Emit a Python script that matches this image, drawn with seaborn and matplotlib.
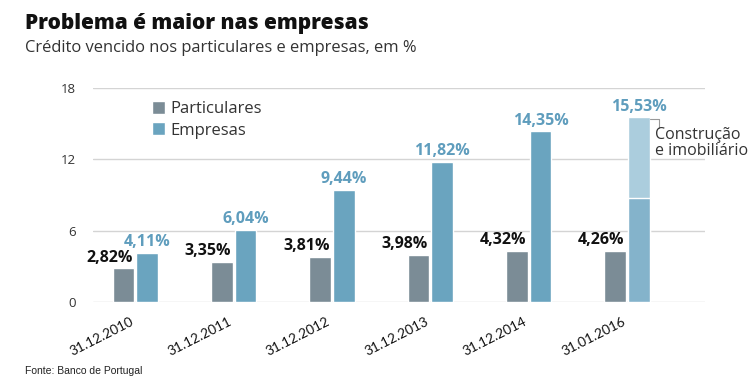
import matplotlib
matplotlib.use("Agg")
import matplotlib.pyplot as plt
import seaborn as sns
import pandas as pd

dates = ["31.12.2010", "31.12.2011", "31.12.2012", "31.12.2013", "31.12.2014", "31.01.2016"]
particulares = [2.82, 3.35, 3.81, 3.98, 4.32, 4.26]
empresas = [4.11, 6.04, 9.44, 11.82, 14.35, 15.53]
empresas_sem_construcao_2016 = 8.75
series_names = ["Particulares", "Empresas"]
yticks = [0, 6, 12, 18]

c_part = "#7b8c96"
c_emp = "#6aa4bf"
c_emp_low = "#84b3cb"
c_emp_top = "#abcddd"
c_emp_text = "#5f9dbd"

df = pd.DataFrame({
    "data": dates * 2,
    "valor": particulares + empresas,
    "serie": [series_names[0]] * len(dates) + [series_names[1]] * len(dates),
})

sns.set_theme(style="white")
plt.rcParams["font.family"] = ["Open Sans", "DejaVu Sans"]

fig = plt.figure(figsize=(7.49, 3.85), dpi=100)
ax = fig.add_axes([0.124, 0.216, 0.817, 0.555])

sns.barplot(data=df, x="data", y="valor", hue="serie", order=dates,
            hue_order=series_names, palette=[c_part, c_emp],
            width=0.48, gap=0.08, ax=ax, legend=False, saturation=1)

n = len(dates)
part_patches = ax.patches[:n]
emp_patches = ax.patches[n:2 * n]

# last Empresas bar: light top (construction), overlay lower part
last = emp_patches[-1]
last.set_facecolor(c_emp_top)
ax.bar(last.get_x() + last.get_width() / 2, empresas_sem_construcao_2016,
       width=last.get_width(), color=c_emp_low, zorder=last.get_zorder() + 0.1)

def fmt(v):
    return f"{v:.2f}".replace(".", ",") + "%"

for p, v in zip(part_patches, particulares):
    ax.annotate(fmt(v), (p.get_x() + p.get_width() / 2, v), xytext=(-10, 2),
                textcoords="offset points", ha="center", va="bottom",
                fontsize=11.5, fontweight="bold", color="#111111")
for p, v in zip(emp_patches, empresas):
    ax.annotate(fmt(v), (p.get_x() + p.get_width() / 2, v), xytext=(0, 2),
                textcoords="offset points", ha="center", va="bottom",
                fontsize=11.5, fontweight="bold", color=c_emp_text)

# construction annotation bracket
xr = last.get_x() + last.get_width()
ax.plot([xr, xr + 0.09, xr + 0.09], [empresas[-1] - 0.1, empresas[-1] - 0.1, empresas[-1] - 0.9],
        color="#999999", lw=0.8, clip_on=False)
ax.text(xr + 0.05, empresas[-1] - 0.8, "Construção\ne imobiliário", ha="left", va="top",
        fontsize=11.5, color="#333333", linespacing=1.0, clip_on=False)

ax.set_ylim(0, 18)
ax.set_xlim(-0.43, 5.79)
ax.set_yticks(yticks)
ax.set_yticklabels([str(t) for t in yticks], fontsize=9.5, color="#333333")
ax.yaxis.grid(True, color="#d4d4d4", lw=1)
ax.set_axisbelow(True)
for s in ax.spines.values():
    s.set_visible(False)
ax.tick_params(axis="both", length=0)
ax.tick_params(axis="y", pad=12)
ax.set_xlabel("")
ax.set_ylabel("")
ax.set_xticks(range(n))
ax.set_xticklabels(dates, rotation=27, ha="right", fontsize=9.8, color="#111111",
                   family=["Lato", "DejaVu Sans"])
ax.tick_params(axis="x", pad=10)

# legend
from matplotlib.patches import Patch
handles = [Patch(facecolor=c_part), Patch(facecolor=c_emp)]
leg = ax.legend(handles, series_names, loc="upper left", bbox_to_anchor=(0.085, 0.97),
                frameon=False, fontsize=12, handlelength=0.8, handleheight=0.8,
                handletextpad=0.35, labelspacing=0.3, borderaxespad=0)
for t in leg.get_texts():
    t.set_color("#333333")

fig.text(0.033, 0.94, "Problema é maior nas empresas", fontsize=15, fontweight="heavy",
         color="#111111", va="center", ha="left")
fig.text(0.033, 0.876, "Crédito vencido nos particulares e empresas, em %", fontsize=11.9,
         color="#333333", va="center", ha="left")
fig.text(0.034, 0.036, "Fonte: Banco de Portugal", fontsize=7.5, color="#222222",
         va="center", ha="left", family=["Liberation Sans Narrow", "Liberation Sans", "DejaVu Sans"])

fig.savefig("out.png", dpi=100)
